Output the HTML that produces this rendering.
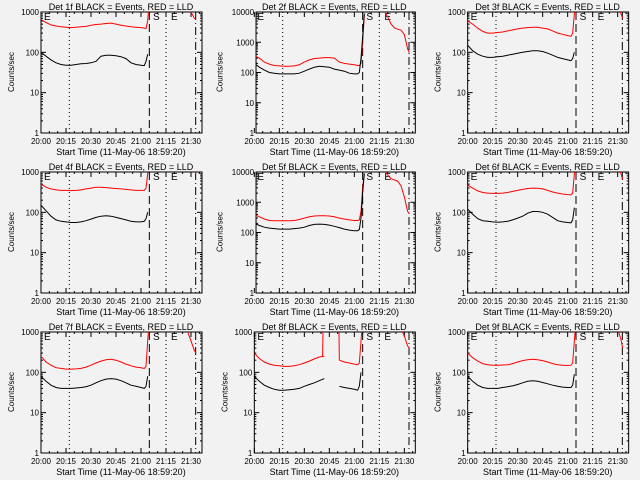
<!DOCTYPE html>
<html><head><meta charset="utf-8">
<style>
html,body{margin:0;padding:0;background:#f2f2f2;}
svg{display:block;font-family:"Liberation Sans",sans-serif;}
</style></head>
<body>
<svg id="chart" width="640" height="480" viewBox="0 0 640 480">
<rect width="640" height="480" fill="#f2f2f2"/>
</svg>
<script>
// shared sample times (minutes since 20:00)
const times = [0,3,6,9,12,15,18,21,24,27,30,33,36,39,42,45,48,51,54,57,60,62,63,64,65,66];
const postTimes = [76,78,80,82,84,86,88,90,92,93];
const xTickLabels = ["20:00","20:15","20:30","20:45","21:00","21:15","21:30"];
const detNames = ["1f","2f","3f","4f","5f","6f","7f","8f","9f"];
const yMaxes = [1000,10000,1000,1000,10000,1000,1000,1000,1000];
const black1 = [100,80,65,55,50,48,48,50,52,53,55,60,80,85,85,82,78,70,55,50,48,47,60,90,null,null];
const red1 = [650,550,480,450,430,420,410,420,430,440,470,490,500,520,530,500,470,450,430,420,410,400,390,600,2000,null];
const post1 = [null,null,null,null,null,null,1500,1000,700,650];
const black2 = [200,150,120,100,95,90,90,90,90,95,110,130,150,160,155,150,130,120,110,95,90,90,100,300,1500,9000];
const red2 = [350,300,220,190,170,165,160,160,165,180,220,260,290,300,310,310,300,220,200,190,180,170,170,200,1000,8000];
const post2 = [20000,11000,7000,4000,3000,2700,2500,1800,600,450];
const black3 = [150,110,90,80,75,75,78,80,85,90,95,100,105,110,110,105,95,85,75,70,65,62,70,100,null,null];
const red3 = [600,500,400,330,300,300,310,320,340,360,380,400,410,420,420,400,380,340,300,280,260,250,300,900,2000,null];
const post3 = [null,null,null,null,null,null,null,1500,900,700];
const black4 = [150,110,80,65,60,58,56,56,58,62,68,75,80,82,80,75,70,65,60,58,58,60,70,100,null,null];
const red4 = [500,420,380,360,350,350,345,350,360,380,400,420,420,410,400,390,380,370,360,350,350,350,400,900,2000,null];
const post4 = [null,null,null,null,null,null,null,null,1200,900];
const black5 = [200,170,150,140,135,130,130,130,135,140,150,170,185,190,185,175,160,145,130,120,115,115,125,300,2000,9000];
const red5 = [400,330,280,250,245,245,245,245,250,270,300,330,350,360,360,350,330,300,280,260,250,250,260,500,3000,9000];
const post5 = [20000,11000,8000,6000,5500,5000,3500,1500,500,420];
const black6 = [120,90,70,62,60,58,57,58,60,65,72,80,95,105,105,100,90,75,62,58,56,55,65,130,null,null];
const red6 = [480,400,340,310,300,295,295,300,310,330,350,370,390,400,395,380,350,320,300,285,275,270,300,900,2000,null];
const post6 = [null,null,null,null,null,null,null,1500,900,650];
const black7 = [80,60,48,42,40,40,40,41,42,44,48,55,62,68,70,68,62,55,48,45,42,40,45,80,null,null];
const red7 = [250,180,150,130,125,120,120,122,125,135,150,170,190,205,210,200,180,160,145,135,130,125,140,600,2000,null];
const post7 = [null,null,null,null,null,1500,1000,600,350,300];
const black8 = [80,60,48,42,38,36,36,37,38,40,45,50,55,62,70,null,null,45,42,40,38,36,45,100,null,null];
const red8 = [300,220,180,160,150,145,140,140,145,155,170,190,215,240,250,null,null,200,180,170,160,155,170,600,2000,null];
const post8 = [null,null,null,null,null,null,1200,800,450,400];
const black9 = [80,60,48,42,40,40,40,42,44,46,50,55,60,62,60,56,52,48,45,43,42,42,48,90,null,null];
const red9 = [300,230,190,165,155,150,150,152,155,165,180,195,205,210,205,195,180,165,155,150,148,150,170,600,2000,null];
const post9 = [null,null,null,null,null,null,null,1200,650,400];
// panel 8 red jumps around the data gap
const gapTimes8 = [41,41.4,50.6,51];
const gapRed8 = [250,5000,5000,200];
const blacks=[black1,black2,black3,black4,black5,black6,black7,black8,black9];
const reds=[red1,red2,red3,red4,red5,red6,red7,red8,red9];
const posts=[post1,post2,post3,post4,post5,post6,post7,post8,post9];

const NS="http://www.w3.org/2000/svg";
const svg=document.getElementById('chart');
function mk(tag,attrs,parent){const e=document.createElementNS(NS,tag);for(const k in attrs)e.setAttribute(k,attrs[k]);parent.appendChild(e);return e;}

for(let p=0;p<9;p++){
  const col=p%3,row=Math.floor(p/3);
  const g=mk('g',{transform:`translate(${(col*213.33).toFixed(2)},${row*160})`},svg);
  
  
  const big=yMaxes[p]===10000;
  const x0=big?42.7:41,x1=202,yT=12,yB=133;
  const minTot=(x1-41)/25*15;
  const xs=m=>41+m*25/15;
  const dec=Math.log10(yMaxes[p]);
  const ys=v=>yB-Math.log10(v)/dec*(yB-yT);
  const cid='clip'+p;
  const cp=mk('clipPath',{id:cid},g);mk('rect',{x:x0,y:yT,width:x1-x0,height:yB-yT},cp);
  const fr=mk('rect',{x:x0,y:yT,width:x1-x0,height:yB-yT,fill:'none',stroke:'#000','stroke-width':1},g);
  
  
  for(let d=0;d<=dec;d++){
    const v=Math.pow(10,d),y=ys(v);
    mk('line',{x1:x0,x2:x0+5,y1:y,y2:y,stroke:'#000'},g);
    mk('line',{x1:x1-5,x2:x1,y1:y,y2:y,stroke:'#000'},g);
    if(d<dec)for(let k=2;k<10;k++){const yy=ys(v*k);mk('line',{x1:x0,x2:x0+2,y1:yy,y2:yy,stroke:'#000'},g);mk('line',{x1:x1-2,x2:x1,y1:yy,y2:yy,stroke:'#000'},g);}
    const t=mk('text',{x:x0-2,y:y+3,'text-anchor':'end','font-size':8},g);t.textContent=String(v);
    
    
  }
  xTickLabels.forEach((lab,i)=>{
    const x=xs(i*15);
    mk('line',{x1:x,x2:x,y1:yB,y2:yB-5,stroke:'#000'},g);
    mk('line',{x1:x,x2:x,y1:yT,y2:yT+5,stroke:'#000'},g);
    const t=mk('text',{x:x,y:yB+11,'text-anchor':'middle','font-size':8},g);t.textContent=lab;
    
    
  });
  for(let m=5;m<minTot;m+=5){if(m%15){const x=xs(m);mk('line',{x1:x,x2:x,y1:yB,y2:yB-2,stroke:'#000'},g);mk('line',{x1:x,x2:x,y1:yT,y2:yT+2,stroke:'#000'},g);}}
  const tt=mk('text',{x:121,y:10,'text-anchor':'middle','font-size':9},g);tt.textContent='Det '+detNames[p]+' BLACK = Events, RED = LLD';
  
  
  const xt=mk('text',{x:121,y:155,'text-anchor':'middle','font-size':9},g);xt.textContent='Start Time (11-May-06 18:59:20)';
  
  
  const yl=mk('text',{x:0,y:0,'text-anchor':'middle','font-size':8,transform:`translate(${big?9:14},72) rotate(-90)`},g);yl.textContent='Counts/sec';
  
  
  const mg=mk('g',{'clip-path':`url(#${cid})`},g);
  mk('line',{x1:xs(17),x2:xs(17),y1:yT,y2:yB,stroke:'#000','stroke-dasharray':'1,3'},mg);
  mk('line',{x1:xs(75),x2:xs(75),y1:yT,y2:yB,stroke:'#000','stroke-dasharray':'1,3'},mg);
  mk('line',{x1:xs(65),x2:xs(65),y1:yT,y2:yB,stroke:'#000','stroke-dasharray':'8,4'},mg);
  mk('line',{x1:xs(92.8),x2:xs(92.8),y1:yT,y2:yB,stroke:'#000','stroke-dasharray':'8,3,1,3'},mg);
  [['E',44],['S',153],['E',171]].forEach(([s,x])=>{const t=mk('text',{x:x,y:yT+8,'font-size':10},g);t.textContent=s;
    
    });
  function path(tArr,vArr,color,name){
    let d='',pen=false;
    tArr.forEach((t,i)=>{const v=vArr[i];if(v==null){pen=false;return;}d+=(pen?'L':'M')+xs(t).toFixed(1)+','+ys(v).toFixed(1);pen=true;});
    const e=mk('path',{d:d,fill:'none',stroke:color,'stroke-width':1,'clip-path':`url(#${cid})`},g);
    
    
  }
  path(times,reds[p],'#ff0000','lld-series');
  path(times,blacks[p],'#000000','events-series');
  path(postTimes,posts[p],'#ff0000','lld-series-late');
  if(p===7){
    path(gapTimes8.slice(0,2),gapRed8.slice(0,2),'#ff0000','lld-gap-rise');
    path(gapTimes8.slice(2),gapRed8.slice(2),'#ff0000','lld-gap-fall');
  }
}
</script>
</body></html>
